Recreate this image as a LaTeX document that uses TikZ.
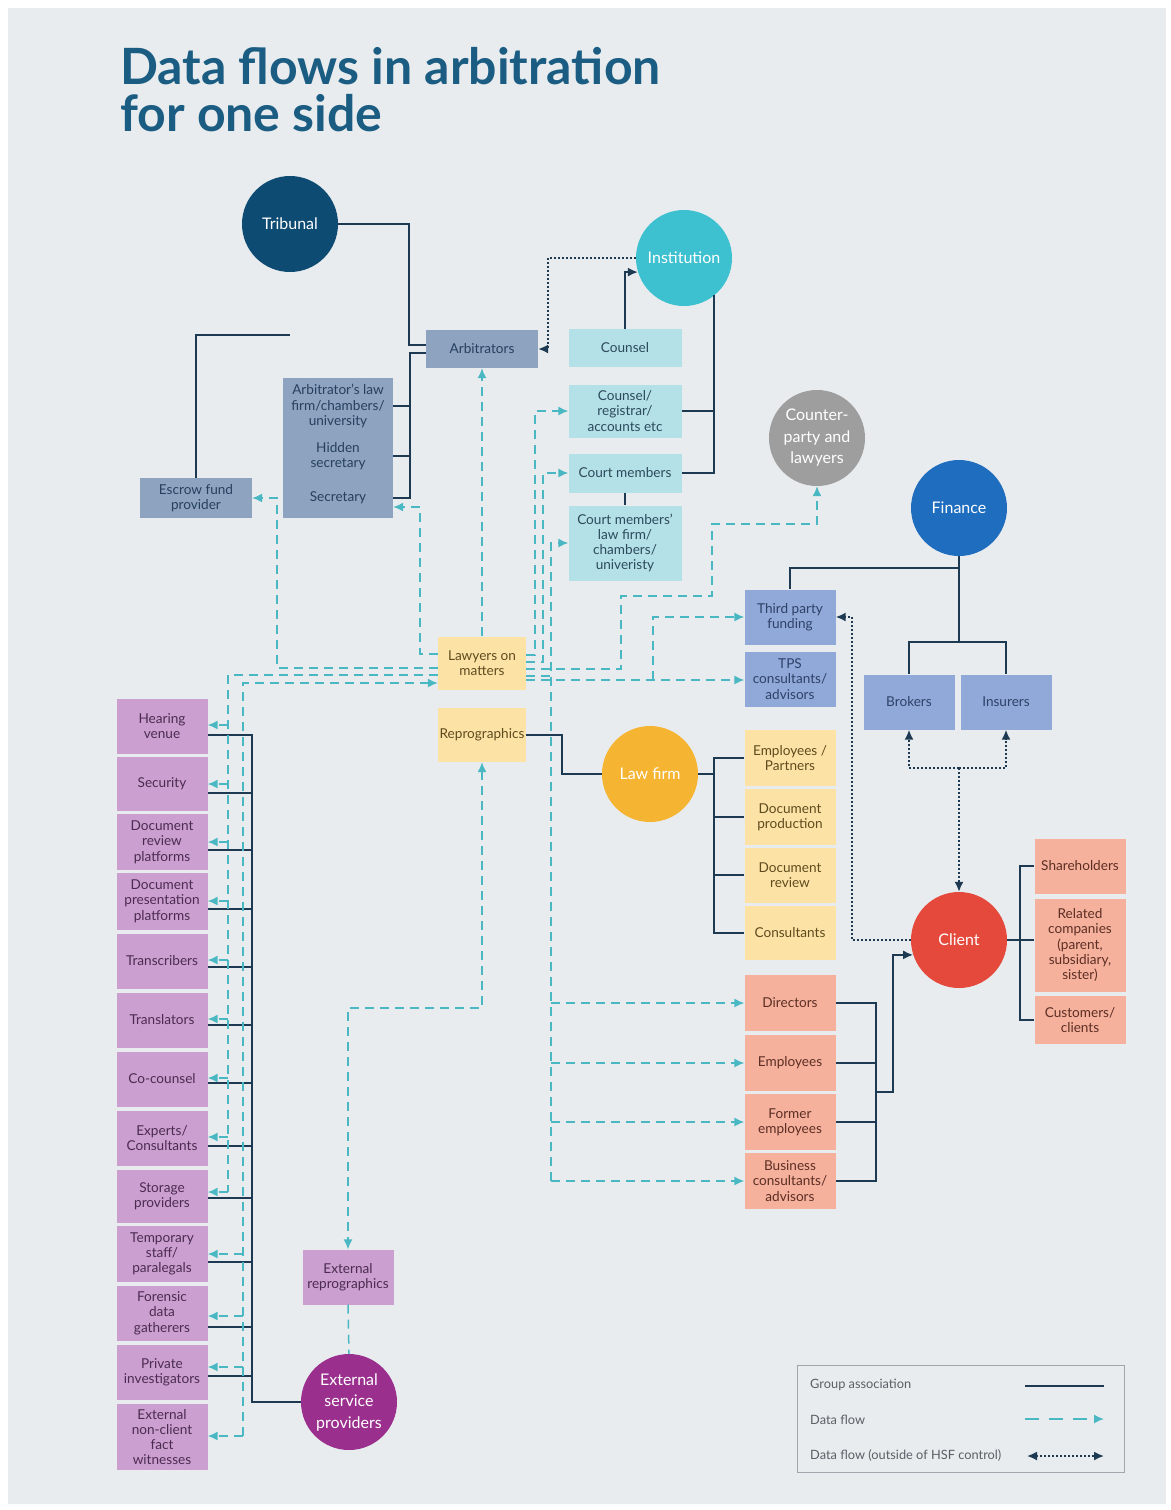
\documentclass[tikz,border=0pt]{standalone}
\usepackage{fontspec}
\setmainfont{Lato}
\usepackage{xcolor}
\usepackage{tikz}
\usetikzlibrary{arrows.meta, positioning}

\definecolor{bgpanel}{HTML}{E8ECEF}
\definecolor{titleblue}{HTML}{1B5D82}
\definecolor{linknavy}{HTML}{1E3A52}
\definecolor{flowteal}{HTML}{4AB8C2}
\definecolor{tribblue}{HTML}{0E4B72}
\definecolor{instcyan}{HTML}{3DC0CF}
\definecolor{cpgray}{HTML}{9E9E9E}
\definecolor{finblue}{HTML}{1E6DBE}
\definecolor{lawgold}{HTML}{F5B431}
\definecolor{clientred}{HTML}{E4493B}
\definecolor{espurple}{HTML}{9A2F8D}
\definecolor{arbfill}{HTML}{8DA3C0}
\definecolor{instfill}{HTML}{B4E0E8}
\definecolor{finfill}{HTML}{91A9D8}
\definecolor{lawfill}{HTML}{FDE2A5}
\definecolor{clientfill}{HTML}{F5B19C}
\definecolor{espfill}{HTML}{CB9FCF}
\definecolor{arbtext}{HTML}{26405E}
\definecolor{insttext}{HTML}{2C4A5C}
\definecolor{fintext}{HTML}{2E4168}
\definecolor{lawtext}{HTML}{5E4B1E}
\definecolor{clienttext}{HTML}{5C2E24}
\definecolor{esptext}{HTML}{4B2C50}
\definecolor{legendgray}{HTML}{A0A6AD}
\definecolor{legendtext}{HTML}{5A5F66}

\newcommand\cellfont{\fontsize{13.6}{15.3}\selectfont}
\newcommand\hubfont{\fontsize{16}{21.5}\selectfont}
\newcommand\dftitlefont{\fontsize{50}{54}\selectfont\bfseries}
\newcommand\legfont{\fontsize{12.8}{14}\selectfont}

\begin{document}
\begin{tikzpicture}[
    x=1pt, y=-1pt,
    hub/.style={circle, minimum size=96pt, inner sep=0pt, align=center, text=white, font=\hubfont},
    cell/.style={rectangle, inner sep=1pt, align=center, font=\cellfont, minimum width=91pt, minimum height=55pt},
    arbcell/.style={cell, fill=arbfill, text=arbtext},
    arbtxt/.style={inner sep=0pt, align=center, font=\cellfont, text=arbtext},
    instcell/.style={cell, fill=instfill, text=insttext, minimum width=113pt},
    fincell/.style={cell, fill=finfill, text=fintext},
    lawcell/.style={cell, fill=lawfill, text=lawtext},
    clientcell/.style={cell, fill=clientfill, text=clienttext},
    espcell/.style={cell, fill=espfill, text=esptext},
    group/.style={linknavy, line width=1.8pt},
    flowline/.style={flowteal, line width=1.5pt, dash pattern=on 9pt off 6pt},
    flow/.style={flowline, -{Latex[length=10pt,width=9pt]}},
    ext/.style={linknavy, line width=1.7pt, dash pattern=on 1.7pt off 2.3pt, -{Latex[length=10pt,width=9pt]}},
    legtext/.style={anchor=west, font=\legfont, text=legendtext, inner sep=0pt}
]

    % Page and panel
    \useasboundingbox (0,0) rectangle (1170,1510);
    \fill[white] (0,0) rectangle (1170,1510);
    \fill[bgpanel] (8,8) rectangle (1166,1504);

    % Title
    \node[anchor=base west, inner sep=0pt, font=\dftitlefont, text=titleblue] (title1) at (120,84) {Data flows in arbitration};
    \node[anchor=base west, inner sep=0pt, font=\dftitlefont, text=titleblue] (title2) at (120,131) {for one side};

    % 1. Main actors (circles)
    \node[hub, fill=tribblue] (trib) at (290,224) {Tribunal};
    \node[hub, fill=instcyan] (inst) at (684,258) {Institution};
    \node[hub, fill=cpgray] (counter) at (817,438) {Counter-\\party and\\lawyers};
    \node[hub, fill=finblue] (fin) at (959,508) {Finance};
    \node[hub, fill=lawgold] (law) at (650,774) {Law firm};
    \node[hub, fill=clientred] (client) at (959,940) {Client};
    \node[hub, fill=espurple] (esp) at (349,1402) {External\\service\\providers};

    % 2. Tribunal side
    \node[arbcell, minimum width=112pt, minimum height=38pt] (arb) at (482,349) {Arbitrators};
    \node[arbcell, minimum width=110pt, minimum height=140pt] (arbgrp) at (338,448) {};
    \node[arbtxt] (arbfirm) at (338,406) {Arbitrator's law\\firm/chambers/\\university};
    \node[arbtxt] (hidsec) at (338,456) {Hidden\\secretary};
    \node[arbtxt] (secr) at (338,498) {Secretary};
    \node[arbcell, minimum width=112pt, minimum height=40pt] (escrow) at (196,498) {Escrow fund\\provider};

    % Institution side
    \node[instcell, minimum height=38pt] (counsel) at (625,348) {Counsel};
    \node[instcell, minimum height=53pt] (registrar) at (625,411) {Counsel/\\registrar/\\accounts etc};
    \node[instcell, minimum height=39pt] (court) at (625,473) {Court members};
    \node[instcell, minimum height=75pt] (courtfirm) at (625,543) {Court members'\\law firm/\\chambers/\\univeristy};

    % Finance side
    \node[fincell] (tpf) at (790,617) {Third party\\funding};
    \node[fincell] (tps) at (790,679) {TPS\\consultants/\\advisors};
    \node[fincell] (brokers) at (909,702) {Brokers};
    \node[fincell] (insurers) at (1006,702) {Insurers};

    % Law firm side
    \node[lawcell, minimum width=88pt, minimum height=53pt] (lawyers) at (482,663) {Lawyers on\\matters};
    \node[lawcell, minimum width=88pt, minimum height=54pt] (repro) at (482,735) {Reprographics};
    \node[lawcell, minimum height=56pt] (emppart) at (790,758) {Employees /\\Partners};
    \node[lawcell, minimum height=56pt] (docprod) at (790,817) {Document\\production};
    \node[lawcell] (docrev) at (790,875) {Document\\review};
    \node[lawcell, minimum height=54pt] (consult) at (790,933) {Consultants};

    % Client side
    \node[clientcell, minimum height=56pt] (directors) at (790,1003) {Directors};
    \node[clientcell, minimum height=56pt] (employees) at (790,1063) {Employees};
    \node[clientcell, minimum height=56pt] (former) at (790,1122) {Former\\employees};
    \node[clientcell, minimum height=56pt] (business) at (790,1181) {Business\\consultants/\\advisors};
    \node[clientcell] (share) at (1080,866) {Shareholders};
    \node[clientcell, minimum height=93pt] (related) at (1080,945) {Related\\companies\\(parent,\\subsidiary,\\sister)};
    \node[clientcell, minimum height=48pt] (customers) at (1080,1020) {Customers/\\clients};

    % External service providers
    \node[espcell] (hear) at (162,726) {Hearing\\venue};
    \node[espcell, minimum height=54pt] (secu) at (162,784) {Security};
    \node[espcell, minimum height=56pt] (drp) at (162,842) {Document\\review\\platforms};
    \node[espcell, minimum height=57pt] (dpp) at (162,901) {Document\\presentation\\platforms};
    \node[espcell] (transc) at (162,961) {Transcribers};
    \node[espcell] (transl) at (162,1020) {Translators};
    \node[espcell] (cocoun) at (162,1079) {Co-counsel};
    \node[espcell] (experts) at (162,1138) {Experts/\\Consultants};
    \node[espcell, minimum height=53pt] (storage) at (162,1196) {Storage\\providers};
    \node[espcell, minimum height=56pt] (temp) at (162,1254) {Temporary\\staff/\\paralegals};
    \node[espcell] (forens) at (162,1313) {Forensic\\data\\gatherers};
    \node[espcell] (privinv) at (162,1372) {Private\\investigators};
    \node[espcell, minimum height=66pt] (witness) at (162,1437) {External\\non-client\\fact\\witnesses};
    \node[espcell] (extrepro) at (348,1277) {External\\reprographics};

    % 3. Group association
    \draw[group] (trib.east) -| (409,345) -- ([yshift=4pt]arb.west);
    \draw[group] ([yshift=-4pt]arb.west) -| (410,498) -- (arbgrp.east |- secr);
    \draw[group] (arbgrp.east |- arbfirm) -- ++(17,0);
    \draw[group] (arbgrp.east |- hidsec) -- ++(17,0);
    \coordinate (escend) at (290,335);
    \draw[group] (escrow.north) |- (escend);

    \draw[group, -{Latex[length=10pt,width=9pt]}] (counsel.north) |- (inst.197);
    \draw[group] (inst.-51) |- (court.east);
    \draw[group] (registrar.east) -- (registrar.east -| inst.-51);
    \draw[group] (court.south) -- (courtfirm.north);

    \draw[group] (fin.south) -- ++(0,87);
    \draw[group] (brokers.north) -- ++(0,-32) -| (insurers.north);
    \draw[group] (tpf.north) |- (fin.south |- 0,568);

    \draw[group] (repro.east) -| (562,774) -- (law.west);
    \draw[group] (law.east) -- (714,774);
    \draw[group] (emppart.west) -- ++(-30,0) |- (consult.west);
    \draw[group] (docprod.west) -- ++(-30,0);
    \draw[group] (docrev.west) -- ++(-30,0);

    \draw[group] (client.east) -- (related.west |- client.east);
    \draw[group] (share.west) -- ++(-14,0) |- (customers.west);
    \draw[group] (directors.east) -- ++(40,0) |- (business.east);
    \draw[group] (employees.east) -- ++(40,0);
    \draw[group] (former.east) -- ++(40,0);
    \coordinate (clbr) at (875,1092);
    \draw[group, -{Latex[length=10pt,width=9pt]}] (clbr) -- ++(18,0) |- (client.198);

    \draw[group] (esp.west) -| (252,735) -- (hear.east |- 0,735);
    \draw[group] (secu.east |- 0,793) -- ++(44,0);
    \draw[group] (drp.east |- 0,850) -- ++(44,0);
    \draw[group] (dpp.east |- 0,909) -- ++(44,0);
    \draw[group] (transc.east |- 0,967) -- ++(44,0);
    \draw[group] (transl.east |- 0,1025) -- ++(44,0);
    \draw[group] (cocoun.east |- 0,1083) -- ++(44,0);
    \draw[group] (experts.east |- 0,1146) -- ++(44,0);
    \draw[group] (storage.east |- 0,1198) -- ++(44,0);
    \draw[group] (temp.east |- 0,1262) -- ++(44,0);
    \draw[group] (forens.east |- 0,1327) -- ++(44,0);
    \draw[group] (privinv.east |- 0,1376) -- ++(44,0);

    % 4. Data flow
    \draw[flow] (lawyers.north) -- (arb.south);
    \draw[flow] (lawyers.west |- 0,654) -| (420,507) -- (arbgrp.east |- 0,507);
    \draw[flow] (lawyers.west |- 0,668) -| (277,498) -- (escrow.east);

    \draw[flowline] (lawyers.west |- 0,675) -| (228,1192);
    \draw[flow] (243,1436) |- (lawyers.west |- 0,683);
    \draw[flow] (228,725) -- (hear.east |- 0,725);
    \draw[flow] (228,784) -- (secu.east |- 0,784);
    \draw[flow] (228,842) -- (drp.east |- 0,842);
    \draw[flow] (228,901) -- (dpp.east |- 0,901);
    \draw[flow] (228,960) -- (transc.east |- 0,960);
    \draw[flow] (228,1019) -- (transl.east |- 0,1019);
    \draw[flow] (228,1078) -- (cocoun.east |- 0,1078);
    \draw[flow] (228,1137) -- (experts.east |- 0,1137);
    \draw[flow] (228,1192) -- (storage.east |- 0,1192);
    \draw[flow] (243,1254) -- (temp.east |- 0,1254);
    \draw[flow] (243,1316) -- (forens.east |- 0,1316);
    \draw[flow] (243,1367) -- (privinv.east |- 0,1367);
    \draw[flow] (243,1436) -- (witness.east |- 0,1436);

    \draw[flow] (lawyers.east |- 0,655) -| (535,411) -- (registrar.west);
    \draw[flow] (lawyers.east |- 0,662) -| (543,473) -- (court.west);
    \draw[flowline] (lawyers.east |- 0,676) -- (551,676);
    \draw[flow] (551,1181) |- (courtfirm.west);
    \draw[flow] (551,1003) -- (directors.west);
    \draw[flow] (551,1063) -- (employees.west);
    \draw[flow] (551,1122) -- (former.west);
    \draw[flow] (551,1181) -- (business.west);
    \draw[flow] (lawyers.east |- 0,669) -| (621,596) -| (712,524) -| (counter.south);
    \draw[flow] (lawyers.east |- 0,680) -- (tps.west |- 0,680);
    \draw[flow] (653,680) |- (tpf.west);

    \draw[flow, {Latex[length=10pt,width=9pt]}-{Latex[length=10pt,width=9pt]}] (repro.south) |- (348,1008) -- (extrepro.north);
    \draw[flowline] (extrepro.south) -- (esp.north);

    % 5. Data flow outside of HSF control
    \draw[ext] (inst.west) -| (548,349) -- (arb.east);
    \draw[ext] (client.west) -| (852,617) -- (tpf.east);
    \coordinate (insj) at (959,768);
    \draw[ext] (insj) -- (client.north);
    \draw[ext] (insj) -| (brokers.south);
    \draw[ext] (insj) -| (insurers.south);

    % 6. Legend
    \node[draw=legendgray, line width=1.2pt, minimum width=327pt, minimum height=107pt, anchor=north west, inner sep=0pt] (legend) at (797,1365) {};
    \node[legtext] (lgroup) at (810,1385) {Group association};
    \node[legtext] (lflow) at (810,1420) {Data flow};
    \node[legtext] (lext) at (810,1455) {Data flow (outside of HSF control)};
    \draw[group, line width=1.6pt] (1025,1386) -- (1104,1386);
    \draw[flow, dash pattern=on 14pt off 10pt] (1025,1419) -- (1104,1419);
    \draw[ext, {Latex[length=10pt,width=9pt]}-{Latex[length=10pt,width=9pt]}] (1027,1456) -- (1104,1456);

\end{tikzpicture}
\end{document}
